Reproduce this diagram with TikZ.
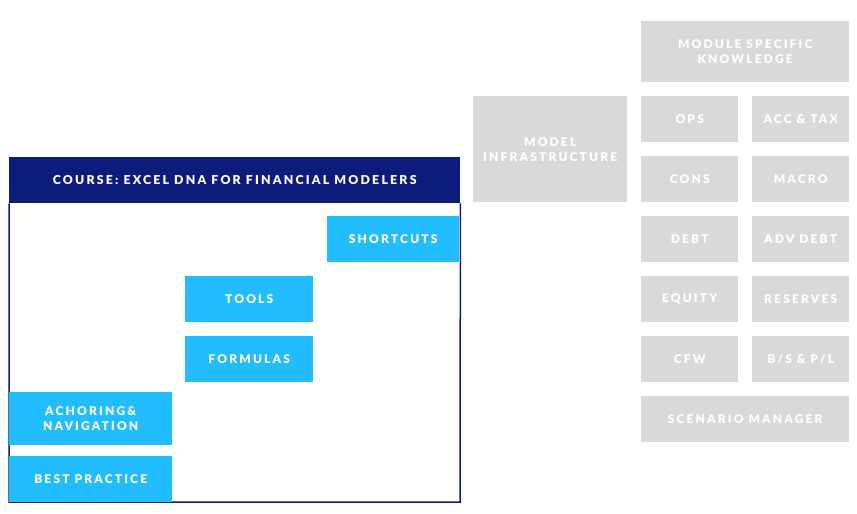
\documentclass[tikz,border=0pt]{standalone}
\usepackage{fontspec}
\setmainfont{Lato}[BoldFont={Lato Black}, LetterSpace=18]
\definecolor{navy}{HTML}{0D1B7B}
\definecolor{skyblue}{HTML}{21BDFF}
\definecolor{lightgrey}{HTML}{D9D9D9}
\tikzset{
  tile/.style={anchor=north west, inner sep=0pt, align=center, text=white,
    font=\fontsize{12}{15}\selectfont\bfseries},
  bluetile/.style={tile, fill=skyblue},
  greytile/.style={tile, fill=lightgrey},
}

\begin{document}
\begin{tikzpicture}[x=1pt,y=-1pt]
\useasboundingbox (0,0) rectangle (857,514);
% course frame
\node[tile, fill=navy, minimum width=451, minimum height=46,
  font=\fontsize{12.3}{15}\selectfont\bfseries] (header) at (9,157) {COURSE: EXCEL DNA FOR FINANCIAL MODELERS};
\draw[navy, line width=1.5pt] (header.south west) -- (9,502) -- (460,502) -- (header.south east);
\node[bluetile, minimum width=132, minimum height=46] (shortcuts) at (327,216) {SHORTCUTS};
\node[bluetile, minimum width=128, minimum height=46] (tools) at (185,276) {TOOLS};
\node[bluetile, minimum width=128, minimum height=46] (formulas) at (185,336) {FORMULAS};
\node[bluetile, minimum width=163, minimum height=53] (anchoring) at (9,392) {ACHORING\&\\NAVIGATION};
\node[bluetile, minimum width=163, minimum height=46] (bestpractice) at (9,456) {BEST PRACTICE};
% modules
\node[greytile, minimum width=208, minimum height=61] (specific) at (641,21) {MODULE SPECIFIC\\KNOWLEDGE};
\node[greytile, minimum width=154, minimum height=106] (infra) at (473,96) {MODEL\\INFRASTRUCTURE};
\node[greytile, minimum width=97, minimum height=46] (ops) at (641,96) {OPS};
\node[greytile, minimum width=97, minimum height=46] (acctax) at (752,96) {ACC \& TAX};
\node[greytile, minimum width=97, minimum height=46] (cons) at (641,156) {CONS};
\node[greytile, minimum width=97, minimum height=46] (macro) at (752,156) {MACRO};
\node[greytile, minimum width=97, minimum height=46] (debt) at (641,216) {DEBT};
\node[greytile, minimum width=97, minimum height=46] (advdebt) at (752,216) {ADV DEBT};
\node[greytile, minimum width=97, minimum height=46] (equity) at (641,276) {EQUITY};
\node[greytile, minimum width=97, minimum height=46] (reserves) at (752,276) {RESERVES};
\node[greytile, minimum width=97, minimum height=46] (cfw) at (641,336) {CFW};
\node[greytile, minimum width=97, minimum height=46] (bspl) at (752,336) {B/S \& P/L};
\node[greytile, minimum width=208, minimum height=46] (scenario) at (641,396) {SCENARIO MANAGER};
\end{tikzpicture}
\end{document}
